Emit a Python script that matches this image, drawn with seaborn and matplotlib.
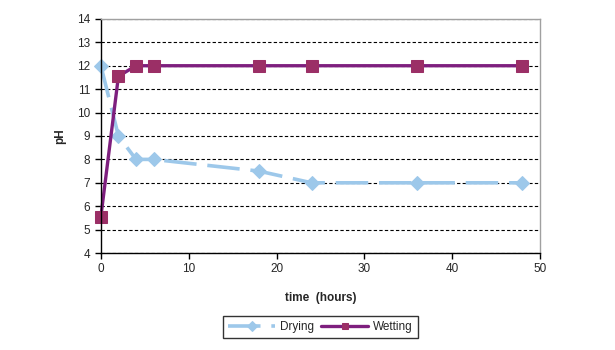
import matplotlib
matplotlib.use("Agg")
import matplotlib.pyplot as plt
import seaborn as sns
import pandas as pd

# valeurs
time_hours = [0, 2, 4, 6, 18, 24, 36, 48]
ph_drying = [12, 9, 8, 8, 7.5, 7, 7, 7]
ph_wetting = [5.55, 11.55, 12, 12, 12, 12, 12, 12]
series_names = ["Drying", "Wetting"]

df = pd.DataFrame({
    "time": time_hours * 2,
    "pH": ph_drying + ph_wetting,
    "serie": [series_names[0]] * len(time_hours) + [series_names[1]] * len(time_hours),
})

sns.set_style("white")
plt.rcParams["font.family"] = ["Liberation Sans", "DejaVu Sans"]

fig = plt.figure(figsize=(6.15, 3.5), dpi=100)
ax = fig.add_axes([0.164, 0.277, 0.714, 0.669])

blue = "#9DC8EA"
purple = "#7E1F7E"
marker_purple = "#9B2F66"

sns.lineplot(data=df[df.serie == "Drying"], x="time", y="pH", ax=ax,
             color=blue, lw=2.6, marker="D", markersize=7,
             markeredgecolor=blue, dashes=(9, 3), label="Drying", clip_on=False)
sns.lineplot(data=df[df.serie == "Wetting"], x="time", y="pH", ax=ax,
             color=purple, lw=2.4, marker="s", markersize=8,
             markerfacecolor=marker_purple, markeredgecolor=marker_purple,
             label="Wetting", clip_on=False)

ax.set_xlim(0, 50)
ax.set_ylim(4, 14)
ax.set_xticks(range(0, 51, 10))
ax.set_yticks(range(4, 15))
ax.yaxis.grid(True, color="black", linestyle=(0, (3, 2)), lw=0.8)
ax.set_axisbelow(True)

for side in ["left", "bottom"]:
    ax.spines[side].set_color("black")
    ax.spines[side].set_linewidth(1)
for side in ["top", "right"]:
    ax.spines[side].set_color("#A0A0A0")
    ax.spines[side].set_linewidth(1)

ax.tick_params(axis="both", direction="out", length=4, width=1, color="black",
               labelsize=8.5, bottom=True, left=True)
ax.set_xlabel("time  (hours)", fontsize=8.5, fontweight="bold", labelpad=12)
ax.set_ylabel("pH", fontsize=8.5, fontweight="bold", labelpad=8)

leg = ax.legend(loc="center", bbox_to_anchor=(0.5, -0.316), ncol=2, frameon=True,
                fancybox=False, edgecolor="black", fontsize=8.5,
                handlelength=4, columnspacing=0.6, handletextpad=0.4,
                borderpad=0.45)
leg.get_frame().set_linewidth(1)
for h in leg.legend_handles:
    h.set_markersize(5)

fig.savefig("out.png", dpi=100)
